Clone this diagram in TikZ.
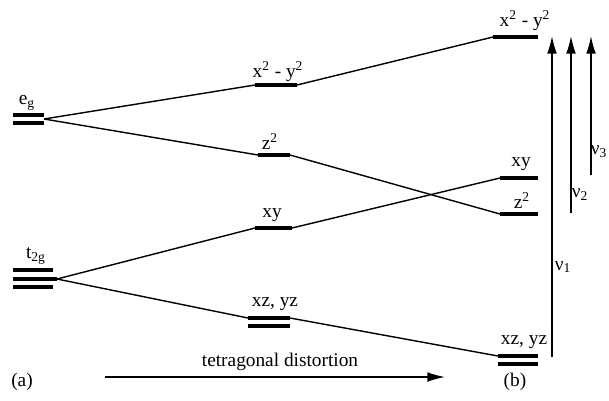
\documentclass[tikz,border=0pt]{standalone}
\usepackage{fontspec}
\setmainfont{Liberation Serif}
\usetikzlibrary{arrows.meta}
\begin{document}
\begin{tikzpicture}[x=0.02cm, y=-0.02cm, >={Latex[length=10pt,width=5.5pt]},
  font=\fontsize{11}{13}\selectfont]
\tikzset{level/.style={line width=2.8pt}, link/.style={line width=0.8pt},
  lab/.style={inner sep=0pt}}
\useasboundingbox (0,0) rectangle (609,400);
% octahedral levels (a)
\coordinate (eg1a) at (13,115); \coordinate (eg1b) at (44,115);
\coordinate (eg2a) at (13,123); \coordinate (eg2b) at (44,123);
\coordinate (eg) at (44,119);
\draw[level] (eg1a) -- (eg1b);
\draw[level] (eg2a) -- (eg2b);
\node[lab] (egl) at (27,103) {e\textsubscript{g}};
\coordinate (t1a) at (13,270); \coordinate (t1b) at (53,270);
\coordinate (t2a) at (13,279); \coordinate (t2b) at (57,279);
\coordinate (t3a) at (13,287); \coordinate (t3b) at (53,287);
\coordinate (tg) at (57,279);
\draw[level] (t1a) -- (t1b);
\draw[level] (t2a) -- (t2b);
\draw[level] (t3a) -- (t3b);
\node[lab] (tgl) at (36,256) {t\textsubscript{2g}};
% intermediate levels
\coordinate (mxa) at (255,85); \coordinate (mxb) at (297,85);
\draw[level] (mxa) -- (mxb);
\node[lab] (mxl) at (278,72) {x\textsuperscript{2} - y\textsuperscript{2}};
\coordinate (mza) at (258,155); \coordinate (mzb) at (290,155);
\draw[level] (mza) -- (mzb);
\node[lab] (mzl) at (270,142) {z\textsuperscript{2}};
\coordinate (mya) at (255,228); \coordinate (myb) at (292,228);
\draw[level] (mya) -- (myb);
\node[lab] (myl) at (272,215) {xy};
\coordinate (mta) at (248,318); \coordinate (mtb) at (290,318);
\coordinate (mtc) at (248,326); \coordinate (mtd) at (290,326);
\draw[level] (mta) -- (mtb);
\draw[level] (mtc) -- (mtd);
\node[lab] (mtl) at (275,304) {xz, yz};
% tetragonal levels (b)
\coordinate (rxa) at (493,37); \coordinate (rxb) at (538,37);
\draw[level] (rxa) -- (rxb);
\node[lab] (rxl) at (525,21) {x\textsuperscript{2} - y\textsuperscript{2}};
\coordinate (rya) at (500,178); \coordinate (ryb) at (538,178);
\draw[level] (rya) -- (ryb);
\node[lab] (ryl) at (521,164) {xy};
\coordinate (rza) at (500,214); \coordinate (rzb) at (538,214);
\draw[level] (rza) -- (rzb);
\node[lab] (rzl) at (522,201) {z\textsuperscript{2}};
\coordinate (rta) at (498,356); \coordinate (rtb) at (538,356);
\coordinate (rtc) at (498,364); \coordinate (rtd) at (538,364);
\draw[level] (rta) -- (rtb);
\draw[level] (rtc) -- (rtd);
\node[lab] (rtl) at (524,342) {xz, yz};
% correlation lines
\draw[link] (eg) -- (mxa);
\draw[link] (eg) -- (mza);
\draw[link] (tg) -- (mya);
\draw[link] (tg) -- (mta);
\draw[link] (mxb) -- (rxa);
\draw[link] (mzb) -- (rza);
\draw[link] (myb) -- (rya);
\draw[link] (mtb) -- (rta);
% transitions
\coordinate (n1s) at (552,357); \coordinate (n1e) at (552,36);
\coordinate (n2s) at (571,213); \coordinate (n2e) at (571,36);
\coordinate (n3s) at (591,175); \coordinate (n3e) at (591,36);
\draw[->, link] (n1s) -- (n1e);
\draw[->, link] (n2s) -- (n2e);
\draw[->, link] (n3s) -- (n3e);
\node[lab] (n1l) at (563,267) {ν\textsubscript{1}};
\node[lab] (n2l) at (580,195) {ν\textsubscript{2}};
\node[lab] (n3l) at (599,152) {ν\textsubscript{3}};
% distortion arrow
\coordinate (ds) at (105,377); \coordinate (de) at (445,377);
\draw[->, link] (ds) -- (de);
\node[lab] (dl) at (280,362) {tetragonal distortion};
\node[lab] (pa) at (22,382) {(a)};
\node[lab] (pb) at (515,382) {(b)};
\end{tikzpicture}
\end{document}
